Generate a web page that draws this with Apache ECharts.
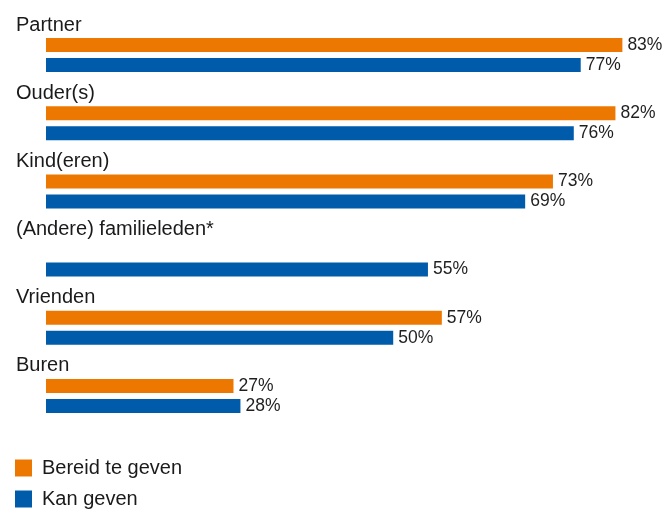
<!DOCTYPE html>
<html>
<head>
<meta charset="utf-8">
<script src="https://cdn.jsdelivr.net/npm/echarts@6/dist/echarts.min.js"></script>
<style>
  html, body { margin: 0; padding: 0; background: #fff; }
  #chart { width: 671px; height: 509px; }
</style>
</head>
<body>
<div id="chart"></div>
<script>
// Support networks: share of people willing / able to give help, per relation
const categories = ['Partner', 'Ouder(s)', 'Kind(eren)', '(Andere) familieleden*', 'Vrienden', 'Buren'];
const bereidTeGeven = [83, 82, 73, null, 57, 27];
const kanGeven = [77, 76, 69, 55, 50, 28];
const seriesNames = ['Bereid te geven', 'Kan geven'];

const ORANGE = '#ED7801';
const BLUE = '#005BAA';
const FONT = '"Liberation Sans", Arial, sans-serif';

const chart = echarts.init(document.getElementById('chart'), null, { renderer: 'canvas' });

const valueLabel = {
  show: true,
  position: 'right',
  distance: 5,
  formatter: p => p.value + '%',
  color: '#1f1f1f',
  fontFamily: FONT,
  fontSize: 17.5
};

const legendText = { color: '#1a1a1a', fontFamily: FONT, fontSize: 20, padding: [0, 0, 0, 5] };

chart.setOption({
  animation: false,
  backgroundColor: '#ffffff',
  grid: { left: 46, top: 21, width: 626.4, height: 409, containLabel: false },
  xAxis: {
    type: 'value',
    min: 0,
    max: 90,
    show: false
  },
  yAxis: {
    type: 'category',
    inverse: true,
    data: categories,
    axisLine: { show: false },
    axisTick: { show: false },
    splitLine: { show: false },
    axisLabel: {
      interval: 0,
      showMinLabel: true,
      showMaxLabel: true,
      hideOverlap: false,
      align: 'left',
      verticalAlign: 'middle',
      margin: 30,
      // category name sits on the first of four lines, above its pair of bars
      formatter: v => v + '\n \n \n ',
      lineHeight: 20,
      color: '#1a1a1a',
      fontFamily: FONT,
      fontSize: 20
    }
  },
  legend: [
    {
      left: 15,
      top: 458,
      padding: 0,
      itemWidth: 17,
      itemHeight: 17,
      itemGap: 10,
      icon: 'rect',
      data: [seriesNames[0]],
      textStyle: legendText
    },
    {
      left: 15,
      top: 489,
      padding: 0,
      itemWidth: 17,
      itemHeight: 17,
      itemGap: 10,
      icon: 'rect',
      data: [seriesNames[1]],
      textStyle: legendText
    }
  ],
  series: [
    {
      name: seriesNames[0],
      type: 'bar',
      data: bereidTeGeven,
      barWidth: 14,
      barGap: '43%',
      itemStyle: { color: ORANGE },
      label: valueLabel
    },
    {
      name: seriesNames[1],
      type: 'bar',
      data: kanGeven,
      barWidth: 14,
      itemStyle: { color: BLUE },
      label: valueLabel
    }
  ]
});
</script>
</body>
</html>
